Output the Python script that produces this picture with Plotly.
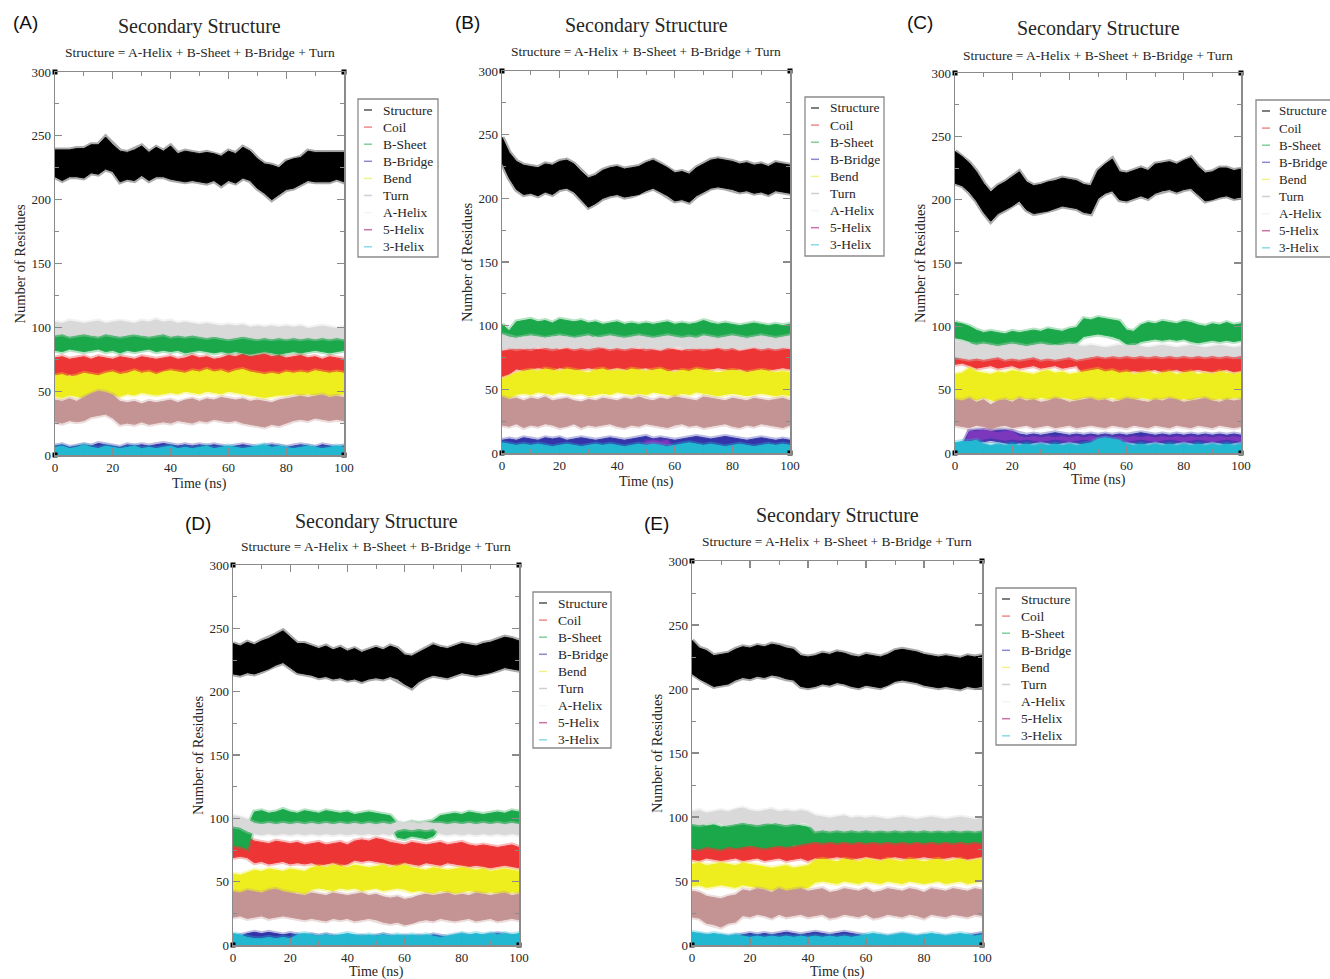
import plotly.graph_objects as go

W, H = 1330, 979

# ---------------- data ----------------
TIME_NS = [0, 2.5, 5, 7.5, 10, 12.5, 15, 17.5, 20, 22.5,
           25, 27.5, 30, 32.5, 35, 37.5, 40, 42.5, 45, 47.5,
           50, 52.5, 55, 57.5, 60, 62.5, 65, 67.5, 70, 72.5,
           75, 77.5, 80, 82.5, 85, 87.5, 90, 92.5, 95, 97.5, 100]

SERIES_NAMES = ["Structure", "Coil", "B-Sheet", "B-Bridge", "Bend",
                "Turn", "A-Helix", "5-Helix", "3-Helix"]
SERIES_COLORS = ["#000000", "#ee3535", "#1aa84a", "#3434a8", "#eeee1e",
                 "#c49494", "#d9d9d9", "#7c38bc", "#22b8d2"]
LEGEND_COLORS = ["#555555", "#f08a8a", "#7fcf97", "#8a8ad0", "#f2f28a",
                 "#cfcfcf", "#f4f4f4", "#d070a8", "#8adbe8"]
PANEL_LABELS = ["(A)", "(B)", "(C)", "(D)", "(E)"]
TITLE_TEXT = "Secondary Structure"
SUBTITLE_TEXT = "Structure = A-Helix + B-Sheet + B-Bridge + Turn"
X_TITLE = "Time (ns)"
Y_TITLE = "Number of Residues"
X_RANGE = [0, 100]
Y_RANGE = [0, 300]

FLOOR_LO = [0, 0, 0, 0, 0, 0, 0, 0, 0, 0, 0, 0, 0, 0, 0, 0, 0, 0, 0, 0,
            0, 0, 0, 0, 0, 0, 0, 0, 0, 0, 0, 0, 0, 0, 0, 0, 0, 0, 0, 0, 0]
PENTA_TRACE_HI = [1, 0, 1, 1, 0, 1, 0, 1, 1, 0, 1, 0, 1, 0, 1, 1, 0, 1, 0, 1,
                  0, 1, 1, 0, 1, 0, 1, 0, 1, 1, 0, 1, 0, 1, 1, 0, 1, 0, 1, 0, 1]

# ---- Panel A ----
A_STRUCT_HI = [239,239,239,240,240,243,243,249,243,238, 237,239,242,237,241,238,242,236,238,237,
               236,237,236,234,238,236,241,238,232,228, 227,225,230,232,233,238,237,237,237,237, 237]
A_STRUCT_LO = [218,215,218,218,217,221,220,224,222,214, 216,215,219,215,218,218,216,215,214,215,
               214,213,215,211,215,213,217,215,209,205, 200,204,208,209,212,215,214,214,214,216, 214]
A_COIL_HI = [76,77,75,76,77,75,77,76,75,77, 76,75,77,76,75,76,77,75,76,78,
             76,77,75,76,78,77,79,77,78,79, 77,78,76,77,78,76,77,75,77,76, 75]
A_COIL_LO = [62,61,63,61,62,63,61,62,63,62, 61,63,62,61,62,63,61,62,63,62,
             61,63,62,63,64,62,63,64,63,62, 64,63,62,63,61,62,63,62,61,63, 62]
A_SHEET_HI = [94,95,93,94,95,93,94,96,94,93, 95,94,93,95,94,96,95,94,93,94,
              93,94,92,93,94,92,93,92,93,92, 91,92,93,92,93,94,93,94,93,94, 93]
A_SHEET_LO = [82,81,83,82,81,82,83,81,82,80, 82,81,82,83,81,82,81,82,80,81,
              82,81,80,81,80,81,80,79,80,81, 80,79,80,81,80,81,82,81,80,81, 82]
A_BRIDGE_HI = [7,8,6,7,8,7,9,8,7,6, 8,7,8,7,8,9,8,7,8,7,
               8,7,8,7,6,7,8,7,6,7, 8,7,6,7,8,7,6,8,7,6, 7]
A_BRIDGE_LO = [3,4,3,3,4,3,4,4,3,3, 4,4,4,4,4,5,4,4,4,4,
               4,4,4,3,3,3,4,3,3,3, 4,3,3,4,4,3,3,4,3,3, 3]
A_BEND_HI = [62,63,61,62,64,63,62,64,65,63, 64,66,64,65,63,65,66,65,64,66,
             65,67,65,66,64,66,67,65,64,63, 64,63,65,64,65,64,66,65,64,65, 64]
A_BEND_LO = [46,45,47,46,45,47,46,48,47,46, 48,47,49,48,47,48,49,48,50,49,
             48,50,49,48,50,49,48,47,46,45, 46,47,47,48,47,48,47,48,46,47, 48]
A_TURN_HI = [43,42,44,42,45,48,50,49,47,42, 41,42,40,42,41,42,43,41,43,44,
             42,44,43,45,44,43,44,42,43,42, 41,43,44,45,46,45,46,47,45,46, 45]
A_TURN_LO = [26,25,27,26,27,30,31,32,29,24, 25,24,26,24,25,26,25,27,26,25,
             27,26,28,27,26,27,25,24,23,22, 24,23,25,27,28,27,29,28,27,28, 27]
A_AHELIX_HI = [104,103,105,104,103,104,105,103,104,105, 104,103,105,104,106,104,105,103,104,103,
               102,103,102,101,102,101,102,100,101,100, 101,100,101,100,101,99,100,101,100,99, 100]
A_AHELIX_LO = [94,95,93,94,95,94,93,95,94,93, 94,95,94,93,94,95,93,94,93,94,
               93,92,93,92,91,92,93,92,91,92, 91,92,91,92,91,92,91,92,91,92, 91]
A_THREE_HI = [6,7,5,6,8,6,5,7,6,5, 6,7,5,6,5,6,7,5,6,5,
              6,7,5,6,7,6,5,6,7,8, 6,7,6,5,6,7,6,5,6,7, 6]

# ---- Panel B ----
B_STRUCT_HI = [248,236,229,226,225,224,227,226,229,230, 227,221,216,218,222,224,225,223,224,225,
               228,230,227,224,220,221,219,224,227,230, 231,230,229,227,228,226,227,225,228,227, 226]
B_STRUCT_LO = [228,216,207,203,204,202,205,203,207,208, 205,199,193,196,200,202,203,201,202,203,
               206,208,205,202,198,199,197,202,205,208, 209,208,207,205,206,204,205,203,206,205, 204]
B_COIL_HI = [80,81,82,81,82,81,82,83,81,82, 81,82,81,83,82,81,82,81,82,81,
             82,81,80,82,81,80,82,81,82,81, 82,81,82,80,81,82,81,82,81,82, 81]
B_COIL_LO = [60,62,66,65,66,67,66,65,67,66, 65,66,67,66,65,66,67,66,65,66,
             67,65,66,64,66,65,64,66,65,66, 67,66,65,66,64,65,66,65,66,67, 66]
B_SHEET_HI = [101,96,103,104,105,103,104,102,105,104, 103,104,102,103,101,102,103,101,102,101,
              102,101,102,103,101,102,101,102,104,102, 101,102,101,100,101,102,101,100,101,100, 101]
B_SHEET_LO = [88,84,91,92,91,92,91,92,91,92, 91,90,91,92,90,91,90,91,90,91,
              90,91,90,91,90,91,90,91,90,91, 90,91,90,91,90,89,90,91,90,91, 90]
B_BRIDGE_HI = [10,11,10,12,11,10,12,11,12,10, 11,12,11,10,11,12,11,10,11,12,
               13,11,12,11,10,11,12,13,12,11, 12,13,12,11,10,11,12,11,10,11, 10]
B_BRIDGE_LO = [4,5,4,5,5,4,5,5,4,5, 4,5,4,5,5,4,5,4,5,4,
               5,4,5,4,5,4,5,4,5,4, 5,4,5,4,5,4,5,4,5,4, 5]
B_BEND_HI = [58,60,63,64,65,64,66,65,64,66, 65,64,63,65,66,64,65,64,66,65,
             64,65,66,64,63,65,64,66,65,64, 63,64,65,64,63,64,65,64,63,64, 63]
B_BEND_LO = [42,43,46,47,46,48,47,46,48,47, 46,47,45,46,47,46,48,47,46,47,
             46,48,47,46,45,47,46,48,47,46, 45,46,47,46,45,46,47,46,45,46, 45]
B_TURN_HI = [44,42,43,41,43,42,44,41,42,43, 41,40,42,41,43,42,41,43,42,44,
             42,41,43,42,44,43,42,41,44,43, 42,41,43,42,41,43,42,41,42,43, 41]
B_TURN_LO = [22,21,23,20,22,21,23,22,20,21, 23,20,22,21,22,23,21,20,22,21,
             23,22,21,20,22,23,21,22,20,21, 22,23,21,20,22,21,23,22,21,20, 22]
B_AHELIX_HI = [93,91,90,91,92,91,90,91,92,91, 90,91,92,90,91,92,91,90,91,92,
               91,90,91,92,91,90,91,90,92,91, 90,91,92,91,90,91,92,91,90,91, 92]
B_AHELIX_LO = [82,83,82,83,82,84,83,82,83,84, 82,83,82,83,84,82,83,82,83,84,
               82,83,82,83,84,83,82,83,82,83, 84,82,83,82,83,84,82,83,82,83, 84]
B_PENTA_HI = [0,0,1,0,0,1,0,0,1,0, 0,1,0,0,1,0,0,1,0,0,
              9,10,9,10,1,0,0,1,0,0, 1,0,0,1,0,0,1,0,0,1, 0]
B_PENTA_LO = [0,0,0,0,0,0,0,0,0,0, 0,0,0,0,0,0,0,0,0,0,
              7,7,6,7,0,0,0,0,0,0, 0,0,0,0,0,0,0,0,0,0, 0]
B_THREE_HI = [8,7,6,7,6,7,6,5,6,7, 6,5,6,7,6,7,6,5,6,7,
              6,7,6,5,6,7,8,7,6,7, 6,5,6,7,6,5,6,7,6,7, 6]

# ---- Panel C ----
C_STRUCT_HI = [238,234,229,222,213,206,211,214,218,222, 214,211,212,214,215,217,216,215,212,211,
               223,228,232,222,221,223,225,223,228,229, 230,228,231,233,226,221,222,225,225,223, 224]
C_STRUCT_LO = [213,211,206,199,190,183,189,192,195,199, 192,189,190,191,193,195,194,193,190,189,
               201,205,207,200,199,201,203,201,205,207, 208,206,208,209,204,199,200,202,203,201, 202]
C_COIL_HI = [83,84,82,78,76,77,76,75,77,76, 75,76,77,76,75,76,77,76,75,77,
             76,75,76,77,78,77,78,79,78,77, 78,79,78,77,78,79,78,77,78,79, 78]
C_COIL_LO = [70,71,69,67,68,69,67,68,69,67, 68,69,67,68,69,67,68,69,62,61,
             62,60,61,62,64,65,64,65,66,64, 65,66,64,65,66,65,64,65,66,64, 65]
C_SHEET_HI = [103,102,100,97,95,96,95,94,96,95, 96,97,96,98,97,96,98,99,106,105,
              107,106,105,104,97,96,101,103,102,104, 103,102,104,103,101,100,102,101,103,101, 102]
C_SHEET_LO = [91,90,88,84,83,82,83,84,82,83, 84,85,86,85,86,85,86,87,92,93,
              94,93,92,90,86,85,88,89,90,89, 90,89,90,88,87,88,89,88,89,88, 89]
C_BRIDGE_HI = [5,6,17,18,18,17,18,18,17,15, 14,15,14,15,16,15,14,15,14,15,
               14,15,14,15,14,15,16,15,14,15, 14,15,14,15,14,15,14,15,14,15, 14]
C_BRIDGE_LO = [1,2,9,8,9,10,9,8,7,8, 7,8,9,8,7,8,9,8,7,8,
               9,8,7,8,9,8,7,8,9,8, 7,8,9,8,7,8,9,8,7,8, 9]
C_BEND_HI = [62,63,67,64,63,62,64,63,65,64, 63,62,64,65,63,64,62,63,64,65,
             66,64,65,63,64,62,63,64,62,63, 64,62,63,64,62,63,62,64,63,62, 63]
C_BEND_LO = [40,41,43,42,44,42,41,43,42,44, 43,42,44,43,42,44,43,42,44,43,
             42,43,44,42,43,42,44,43,42,43, 44,42,43,42,44,43,42,43,42,44, 43]
C_TURN_HI = [42,41,43,40,42,38,41,42,40,43, 41,42,40,41,43,42,40,41,42,43,
             41,42,40,41,43,42,41,40,42,41, 43,42,40,41,42,43,41,40,42,41, 42]
C_TURN_LO = [22,21,20,22,21,19,21,22,20,21, 22,20,21,22,20,21,22,20,21,22,
             21,20,22,21,20,22,21,20,22,21, 20,22,21,20,22,21,20,22,21,20, 21]
C_AHELIX_HI = [88,87,86,85,86,85,84,85,86,85, 84,85,86,85,84,85,86,85,84,85,
               84,83,84,85,84,85,84,83,84,85, 84,83,84,85,84,83,84,85,84,83, 84]
C_AHELIX_LO = [76,75,74,75,74,75,76,74,75,74, 75,76,74,75,74,75,76,74,75,76,
               77,76,77,76,77,76,77,76,77,76, 77,76,77,76,77,76,77,76,77,76, 77]
C_PENTA_HI = [0,0,17,17,18,17,16,17,17,13, 12,13,12,13,12,13,12,13,12,13,
              12,13,12,13,12,13,12,13,12,13, 12,13,12,13,12,13,12,13,12,13, 12]
C_PENTA_LO = [0,0,11,10,11,12,11,10,11,10, 11,10,9,10,11,10,9,10,11,10,
              9,10,11,10,9,10,11,10,9,10, 11,10,9,10,11,10,9,10,11,10, 9]
C_THREE_HI = [8,9,9,10,7,6,7,6,7,6, 7,6,7,6,7,6,7,6,7,8,
              11,12,11,10,7,6,7,6,7,6, 7,6,7,6,7,6,7,6,7,6, 7]

# ---- Panel D ----
D_STRUCT_HI = [238,236,239,237,240,242,245,248,243,238, 238,236,234,236,233,235,232,234,231,233,
               235,233,236,234,229,228,231,234,237,235, 234,236,238,237,236,238,239,241,243,242, 240]
D_STRUCT_LO = [214,213,215,214,216,218,221,223,219,215, 214,213,211,212,210,211,209,210,208,210,
               211,210,212,210,206,203,208,211,213,212, 211,213,215,214,213,214,215,217,219,218, 217]
D_COIL_HI = [85,84,85,82,81,80,82,81,80,81, 79,80,81,79,80,81,79,82,83,82,
             84,83,81,80,79,81,80,79,80,81, 79,80,81,79,78,79,78,77,78,79, 77]
D_COIL_LO = [69,70,69,65,66,64,65,66,64,65, 64,65,63,64,65,63,64,67,66,67,
             66,65,64,63,65,64,63,65,64,63, 65,64,63,62,63,62,61,62,63,62, 61]
D_SHEET_HI = [95,96,93,105,106,104,105,107,105,104, 106,105,104,106,105,104,105,103,104,105,
              104,103,102,96,95,97,96,97,98,102, 103,104,103,105,104,103,104,105,104,106, 105]
D_SHEET_LO = [79,78,76,95,96,95,94,96,95,96, 95,94,95,96,95,94,95,96,95,94,
              95,96,94,85,84,86,85,84,86,93, 94,95,96,95,94,95,96,95,94,95, 96]
D_BRIDGE_HI = [6,7,9,10,9,10,9,8,9,8, 7,8,7,8,7,6,7,6,7,6,
               7,8,7,6,7,6,7,6,8,7, 6,7,8,7,6,7,8,9,8,7, 6]
D_BRIDGE_LO = [3,3,4,4,4,5,4,4,4,4, 3,3,3,3,3,3,3,3,3,3,
               3,3,3,3,3,3,3,3,3,3, 3,3,3,3,3,3,3,3,3,3, 3]
D_BEND_HI = [56,55,57,59,58,60,59,58,60,59, 58,61,62,61,63,62,61,63,62,61,
             62,63,61,62,63,61,60,59,61,60, 59,60,61,60,59,60,58,59,60,59, 58]
D_BEND_LO = [39,38,40,41,42,41,40,42,41,42, 40,44,45,44,43,45,44,45,43,44,
             45,43,44,45,44,42,43,42,41,43, 42,41,42,43,42,41,42,41,40,42, 41]
D_TURN_HI = [42,41,43,42,41,43,44,42,41,40, 39,41,40,39,41,40,39,40,41,39,
             40,38,37,38,36,37,39,40,39,40, 41,39,40,39,41,40,39,40,41,39, 40]
D_TURN_LO = [22,23,21,22,23,21,22,23,22,21, 20,21,20,19,21,20,21,19,20,21,
             20,18,17,18,16,17,19,20,19,21, 20,19,20,21,19,20,21,19,20,21, 20]
D_AHELIX_HI = [102,101,99,96,95,96,95,96,95,96, 95,96,95,96,95,96,95,96,95,96,
               95,96,95,97,96,97,96,97,96,96, 95,96,95,96,95,96,95,96,95,96, 95]
D_AHELIX_LO = [94,93,90,88,87,88,87,88,87,88, 87,88,87,88,87,88,87,88,87,88,
               87,88,87,91,92,91,92,91,92,88, 87,88,87,88,87,88,87,88,87,88, 87]
D_THREE_HI = [9,8,6,5,5,6,5,6,5,8, 9,8,7,8,7,8,9,8,7,8,
              7,8,7,8,7,8,7,8,7,6, 7,8,9,8,9,8,9,8,9,8, 9]

# ---- Panel E ----
E_STRUCT_HI = [238,232,230,226,227,228,231,233,232,234, 233,235,234,232,231,226,225,226,228,227,
               229,228,226,225,227,226,225,227,230,231, 230,229,227,226,225,226,225,224,226,225, 226]
E_STRUCT_LO = [212,208,205,202,203,204,207,209,208,210, 209,211,210,208,207,202,201,202,204,203,
               205,204,202,201,203,202,201,203,206,207, 206,205,203,202,201,202,201,200,202,201, 202]
E_COIL_HI = [79,78,80,79,78,77,79,78,77,79, 78,77,79,78,77,79,80,83,84,83,
             84,85,84,83,84,85,84,83,84,85, 84,83,84,85,84,83,84,85,84,83, 84]
E_COIL_LO = [67,66,68,67,66,67,68,66,67,68, 66,67,68,66,67,68,66,68,67,68,
             69,68,67,68,69,68,67,68,69,68, 67,68,69,68,67,68,69,68,67,68, 69]
E_SHEET_HI = [94,95,93,94,92,93,94,95,94,96, 95,94,96,95,94,93,92,91,90,91,
              90,91,92,90,91,90,89,90,91,90, 89,90,91,90,89,90,91,90,89,90, 91]
E_SHEET_LO = [76,75,77,76,75,77,76,77,78,77, 76,77,78,77,78,79,80,81,80,81,
              80,81,80,81,80,81,80,81,80,81, 80,81,80,81,80,81,80,81,80,81, 80]
E_BRIDGE_HI = [7,8,7,6,7,6,7,8,9,8, 9,8,9,10,9,8,9,10,9,8,
               9,10,9,8,7,6,7,6,7,8, 7,6,7,6,7,6,7,6,7,8, 9]
E_BRIDGE_LO = [3,3,3,3,3,3,3,4,4,4, 4,4,4,4,4,4,4,4,4,4,
               4,4,4,4,3,3,3,3,3,3, 3,3,3,3,3,3,3,3,3,3, 3]
E_BEND_HI = [63,64,62,63,64,63,62,64,63,62, 61,60,61,62,60,61,62,66,67,66,
             65,67,66,65,67,66,65,67,66,65, 67,66,65,66,67,65,66,67,65,66, 67]
E_BEND_LO = [46,47,45,46,47,46,45,47,46,45, 44,43,44,42,43,44,45,49,50,49,
             48,50,49,48,50,49,48,50,49,48, 50,49,48,49,50,48,49,50,48,49, 50]
E_TURN_HI = [42,41,38,37,36,38,39,43,42,44, 43,41,44,42,43,44,42,43,44,41,
             42,44,43,42,44,41,42,44,43,42, 44,43,41,44,43,42,44,43,42,44, 43]
E_TURN_LO = [22,21,17,16,14,17,18,23,22,24, 23,21,24,22,23,24,22,23,24,21,
             22,24,23,22,24,21,22,24,23,22, 24,23,21,24,23,22,24,23,22,24, 23]
E_AHELIX_HI = [104,105,103,104,105,104,106,107,105,104, 105,106,104,105,104,105,104,101,100,99,
               100,101,99,100,99,100,99,98,99,100, 99,98,99,100,99,98,99,100,99,98, 99]
E_AHELIX_LO = [95,94,95,96,95,94,95,96,95,94, 95,96,95,94,95,96,95,89,90,89,
               90,89,90,89,90,89,90,89,90,89, 90,89,90,89,90,89,90,89,90,89, 90]
E_THREE_HI = [10,9,8,9,8,7,8,7,6,7, 6,7,6,7,6,7,6,7,6,7,
              6,7,6,7,8,9,8,7,8,9, 8,7,8,9,8,7,8,9,8,7, 8]

# table built from the named arrays: (low, high) per series, in SERIES_NAMES order
PANEL_DATA = [
    [(A_STRUCT_LO, A_STRUCT_HI), (A_COIL_LO, A_COIL_HI), (A_SHEET_LO, A_SHEET_HI),
     (A_BRIDGE_LO, A_BRIDGE_HI), (A_BEND_LO, A_BEND_HI), (A_TURN_LO, A_TURN_HI),
     (A_AHELIX_LO, A_AHELIX_HI), (FLOOR_LO, PENTA_TRACE_HI), (FLOOR_LO, A_THREE_HI)],
    [(B_STRUCT_LO, B_STRUCT_HI), (B_COIL_LO, B_COIL_HI), (B_SHEET_LO, B_SHEET_HI),
     (B_BRIDGE_LO, B_BRIDGE_HI), (B_BEND_LO, B_BEND_HI), (B_TURN_LO, B_TURN_HI),
     (B_AHELIX_LO, B_AHELIX_HI), (B_PENTA_LO, B_PENTA_HI), (FLOOR_LO, B_THREE_HI)],
    [(C_STRUCT_LO, C_STRUCT_HI), (C_COIL_LO, C_COIL_HI), (C_SHEET_LO, C_SHEET_HI),
     (C_BRIDGE_LO, C_BRIDGE_HI), (C_BEND_LO, C_BEND_HI), (C_TURN_LO, C_TURN_HI),
     (C_AHELIX_LO, C_AHELIX_HI), (C_PENTA_LO, C_PENTA_HI), (FLOOR_LO, C_THREE_HI)],
    [(D_STRUCT_LO, D_STRUCT_HI), (D_COIL_LO, D_COIL_HI), (D_SHEET_LO, D_SHEET_HI),
     (D_BRIDGE_LO, D_BRIDGE_HI), (D_BEND_LO, D_BEND_HI), (D_TURN_LO, D_TURN_HI),
     (D_AHELIX_LO, D_AHELIX_HI), (FLOOR_LO, PENTA_TRACE_HI), (FLOOR_LO, D_THREE_HI)],
    [(E_STRUCT_LO, E_STRUCT_HI), (E_COIL_LO, E_COIL_HI), (E_SHEET_LO, E_SHEET_HI),
     (E_BRIDGE_LO, E_BRIDGE_HI), (E_BEND_LO, E_BEND_HI), (E_TURN_LO, E_TURN_HI),
     (E_AHELIX_LO, E_AHELIX_HI), (FLOOR_LO, PENTA_TRACE_HI), (FLOOR_LO, E_THREE_HI)],
]

# ---------------- layout geometry (pixels) ----------------
PLOT_BOXES = [(55, 344, 72, 455), (502, 790, 71, 453), (955, 1241, 73, 453),
              (233, 519, 565, 945), (692, 982, 561, 945)]
TITLE_Y = [27, 25, 29, 521, 515]
SUBTITLE_Y = [53, 51, 55, 546, 541]
LABEL_POS = [(11, 22), (453, 22), (905, 22), (183, 523), (642, 523)]
YTITLE_X = [20, 467, 920, 198, 657]
XTITLE_Y = [484, 482, 480, 972, 972]
LEGEND_BOXES = [(358, 99, 80, 158), (805, 97, 79, 159), (1256, 100, 80, 157),
                (533, 592, 78, 156), (996, 588, 80, 157)]
LEGEND_TEXT_DX = [23, 23, 21, 23, 23]
LEGEND_FONT = [13.5, 13.5, 13, 13.5, 13.5]

SERIF = "Liberation Serif"
SANS = "Liberation Sans"
TEXT_COLOR = "#262626"
FRAME = "#8a8a8a"


def px(x):
    return x / W


def py(y):
    return 1 - y / H


def rgba(hex_color, alpha):
    h = hex_color.lstrip("#")
    r, g, b = int(h[0:2], 16), int(h[2:4], 16), int(h[4:6], 16)
    return f"rgba({r},{g},{b},{alpha})"


fig = go.Figure()
annotations = []
shapes = []

for i, (x0, x1, y0, y1) in enumerate(PLOT_BOXES):
    sfx = "" if i == 0 else str(i + 1)
    xref, yref = "x" + sfx, "y" + sfx
    common = dict(showline=True, linecolor=FRAME, linewidth=1.5, mirror="allticks",
                  ticks="inside", ticklen=7, tickwidth=1.3, tickcolor=FRAME,
                  showgrid=False, zeroline=False, automargin=False,
                  tickfont=dict(family=SERIF, size=13, color=TEXT_COLOR))
    fig.layout["xaxis" + sfx] = dict(
        domain=[px(x0), px(x1)], anchor=yref, range=X_RANGE,
        tickmode="linear", tick0=0, dtick=20,
        minor=dict(ticks="inside", ticklen=4, tickcolor=FRAME, tickwidth=1, dtick=10, showgrid=False),
        **common)
    fig.layout["yaxis" + sfx] = dict(
        domain=[py(y1), py(y0)], anchor=xref, range=Y_RANGE,
        tickmode="linear", tick0=0, dtick=50,
        minor=dict(ticks="inside", ticklen=4, tickcolor=FRAME, tickwidth=1, dtick=25, showgrid=False),
        **common)

    for (lo, hi), name, color in zip(PANEL_DATA[i], SERIES_NAMES, SERIES_COLORS):
        n = min(len(lo), len(hi), len(TIME_NS))
        t = TIME_NS[:n]
        xs = t + t[::-1]
        ys = list(hi[:n]) + list(lo[:n])[::-1]
        # soft fringe (the noisy spikes of the original trace)
        fig.add_trace(go.Scatter(
            x=xs, y=ys, mode="lines", line=dict(color=rgba(color, 0.33), width=5),
            hoverinfo="skip", showlegend=False, xaxis=xref, yaxis=yref))
        fig.add_trace(go.Scatter(
            x=xs, y=ys, fill="toself", fillcolor=color, mode="lines",
            line=dict(color=color, width=1), name=name,
            hoverinfo="skip", showlegend=False, xaxis=xref, yaxis=yref))

    # small black corner squares of the frame
    fig.add_trace(go.Scatter(
        x=[X_RANGE[0], X_RANGE[1], X_RANGE[0], X_RANGE[1]],
        y=[Y_RANGE[0], Y_RANGE[0], Y_RANGE[1], Y_RANGE[1]],
        mode="markers", marker=dict(symbol="square", size=5, color="#000000"),
        cliponaxis=False, hoverinfo="skip", showlegend=False, xaxis=xref, yaxis=yref))

    cx = (x0 + x1) / 2
    cy = (y0 + y1) / 2
    annotations.append(dict(text=TITLE_TEXT, x=px(cx), y=py(TITLE_Y[i]), xref="paper", yref="paper",
                            showarrow=False, xanchor="center", yanchor="middle",
                            font=dict(family=SERIF, size=20, color=TEXT_COLOR)))
    annotations.append(dict(text=SUBTITLE_TEXT, x=px(cx), y=py(SUBTITLE_Y[i]), xref="paper", yref="paper",
                            showarrow=False, xanchor="center", yanchor="middle",
                            font=dict(family=SERIF, size=13.5, color=TEXT_COLOR)))
    lx, ly = LABEL_POS[i]
    annotations.append(dict(text=PANEL_LABELS[i], x=px(lx), y=py(ly), xref="paper", yref="paper",
                            showarrow=False, xanchor="left", yanchor="middle",
                            font=dict(family=SANS, size=19, color="#111111")))
    annotations.append(dict(text=Y_TITLE, x=px(YTITLE_X[i]), y=py(cy), xref="paper", yref="paper",
                            showarrow=False, xanchor="center", yanchor="middle", textangle=-90,
                            font=dict(family=SERIF, size=14.5, color=TEXT_COLOR)))
    annotations.append(dict(text=X_TITLE, x=px(cx), y=py(XTITLE_Y[i]), xref="paper", yref="paper",
                            showarrow=False, xanchor="center", yanchor="middle",
                            font=dict(family=SERIF, size=14, color=TEXT_COLOR)))

    # legend box
    bx, by, bw, bh = LEGEND_BOXES[i]
    shapes.append(dict(type="rect", xref="paper", yref="paper",
                       x0=px(bx), x1=px(bx + bw), y0=py(by + bh), y1=py(by),
                       line=dict(color=FRAME, width=1.3), fillcolor="rgba(0,0,0,0)"))
    for k, (name, lcolor) in enumerate(zip(SERIES_NAMES, LEGEND_COLORS)):
        ey = by + 11 + k * 17.1
        shapes.append(dict(type="line", xref="paper", yref="paper",
                           x0=px(bx + 6), x1=px(bx + 14), y0=py(ey), y1=py(ey),
                           line=dict(color=lcolor, width=1.5)))
        annotations.append(dict(text=name, x=px(bx + LEGEND_TEXT_DX[i]), y=py(ey),
                                xref="paper", yref="paper",
                                showarrow=False, xanchor="left", yanchor="middle",
                                font=dict(family=SERIF, size=LEGEND_FONT[i], color=TEXT_COLOR)))

fig.update_layout(width=W, height=H, margin=dict(l=0, r=0, t=0, b=0, autoexpand=False),
                  paper_bgcolor="white", plot_bgcolor="white",
                  showlegend=False, annotations=annotations, shapes=shapes)

fig.write_html("out.html",
               config={"displayModeBar": False, "staticPlot": True},
               post_script="document.body.style.margin='0px';document.body.style.padding='0px';"
                           "document.documentElement.style.overflow='hidden';")
